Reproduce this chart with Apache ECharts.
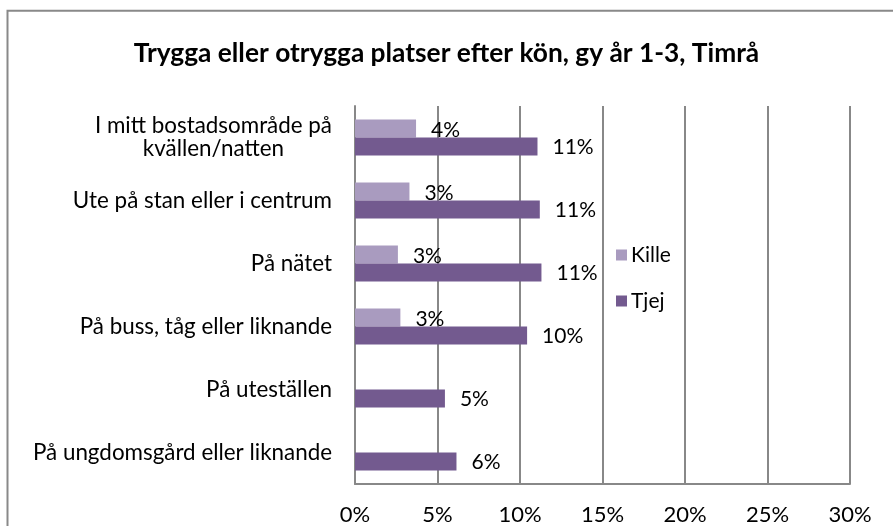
<!DOCTYPE html>
<html>
<head>
<meta charset="utf-8">
<script src="https://cdn.jsdelivr.net/npm/echarts@6/dist/echarts.min.js"></script>
<style>
html,body{margin:0;padding:0;background:#fff;}
#c{width:893px;height:526px;}
</style>
</head>
<body>
<div id="c"></div>
<script>
var titleText = 'Trygga eller otrygga platser efter kön, gy år 1-3, Timrå';
var categories = [
  'I mitt bostadsområde på\nkvällen/natten',
  'Ute på stan eller i centrum',
  'På nätet',
  'På buss, tåg eller liknande',
  'På uteställen',
  'På ungdomsgård eller liknande'
];
var seriesNames = ['Kille', 'Tjej'];
var killeValues = [3.7, 3.3, 2.6, 2.75, null, null];
var tjejValues = [11.06, 11.2, 11.3, 10.43, 5.45, 6.15];
var xTicks = [0, 5, 10, 15, 20, 25, 30];

var FONT = 'Lato';
var FS = 21;
var FSY = 22.4;
var chart = echarts.init(document.getElementById('c'));

function lbl(p) {
  if (p.value == null) return '';
  return Math.round(p.value) + '%';
}

chart.setOption({
  backgroundColor: '#ffffff',
  animation: false,
  title: {
    text: titleText,
    left: 'center',
    top: 36,
    textStyle: { fontFamily: FONT, fontWeight: 'bold', fontSize: 26.3, color: '#000' }
  },
  graphic: [{
    type: 'rect',
    shape: { x: 7.5, y: 10.8, width: 900, height: 600 },
    style: { fill: 'none', stroke: '#898989', lineWidth: 2 },
    silent: true
  }],
  legend: {
    orient: 'vertical',
    left: 611,
    top: 238,
    itemWidth: 11,
    itemHeight: 11,
    itemGap: 22,
    icon: 'rect',
    textStyle: { fontFamily: FONT, fontSize: FS, color: '#000', lineHeight: 24, padding: [0,0,0,-1] },
    data: seriesNames
  },
  grid: { left: 355, right: 43, top: 106, bottom: 41, containLabel: false },
  xAxis: {
    type: 'value',
    min: xTicks[0],
    max: xTicks[xTicks.length - 1],
    interval: 5,
    axisLine: { show: true, lineStyle: { color: '#888', width: 2 } },
    axisTick: { show: false },
    splitLine: { show: true, lineStyle: { color: '#888', width: 2 } },
    axisLabel: {
      formatter: '{value}%',
      fontFamily: FONT, fontSize: 22, color: '#000', margin: 20
    }
  },
  yAxis: {
    type: 'category',
    inverse: true,
    data: categories,
    axisLine: { show: true, lineStyle: { color: '#888', width: 2 } },
    axisTick: { show: false },
    axisLabel: {
      fontFamily: FONT, fontSize: FSY, color: '#000', margin: 23,
      lineHeight: 23,
      formatter: function (v) {
        return v.split('\n').map(function (s) { return '{a|' + s + '}'; }).join('\n');
      },
      rich: { a: { align: 'center', fontFamily: FONT, fontSize: FSY, color: '#000', lineHeight: 23 } }
    }
  },
  series: [
    {
      name: seriesNames[0],
      type: 'bar',
      data: killeValues,
      barWidth: 18,
      barGap: '0%',
      barCategoryGap: '43%',
      itemStyle: { color: '#A99BBF' },
      label: {
        show: true, position: 'right', distance: 15, offset: [0, 2],
        formatter: lbl,
        fontFamily: FONT, fontSize: FS, color: '#000'
      }
    },
    {
      name: seriesNames[1],
      type: 'bar',
      data: tjejValues,
      barWidth: 18,
      barGap: '0%',
      barCategoryGap: '43%',
      itemStyle: { color: '#735A8F' },
      label: {
        show: true, position: 'right', distance: 15, offset: [0, 1],
        formatter: lbl,
        fontFamily: FONT, fontSize: FS, color: '#000'
      }
    }
  ]
});
</script>
</body>
</html>
